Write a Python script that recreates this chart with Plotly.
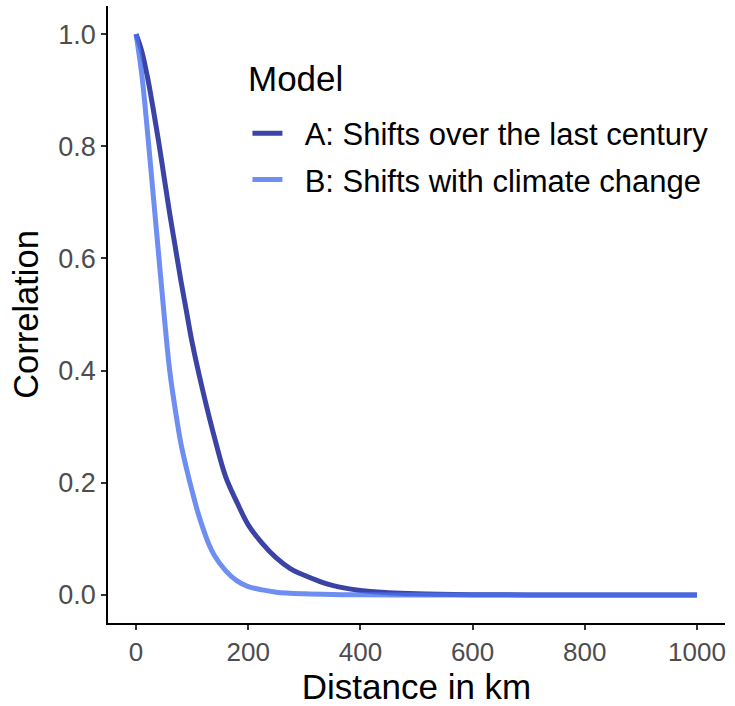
import plotly.graph_objects as go

# Distances (km) and correlations
dist_a = [0, 10, 20, 30, 40, 50, 60, 70, 80, 90, 100, 120, 140, 160, 180, 200, 225, 250,
          275, 300, 325, 350, 400, 450, 500, 600, 700, 800, 1000]
corr_a = [1.0, 0.97, 0.925, 0.87, 0.81, 0.745, 0.68, 0.62, 0.56, 0.505, 0.45, 0.36, 0.28,
          0.21, 0.165, 0.125, 0.092, 0.066, 0.047, 0.035, 0.025, 0.017, 0.008, 0.004, 0.002,
          0.0005, 0.0001, 0.0, 0.0]

dist_b = [0, 10, 20, 30, 40, 50, 60, 70, 80, 90, 100, 110, 120, 130, 140, 160, 180, 200,
          225, 250, 300, 350, 400, 500, 600, 800, 1000]
corr_b = [1.0, 0.93, 0.83, 0.72, 0.61, 0.50, 0.40, 0.33, 0.27, 0.225, 0.185, 0.148, 0.117,
          0.09, 0.07, 0.043, 0.025, 0.015, 0.009, 0.005, 0.002, 0.0007, 0.0002, 0.0, 0.0, 0.0, 0.0]

series_names = ["A: Shifts over the last century", "B: Shifts with climate change"]
series_colors = ["rgb(11,22,143)", "rgb(74,114,239)"]

x_ticks = [0, 200, 400, 600, 800, 1000]
y_ticks = [0.0, 0.2, 0.4, 0.6, 0.8, 1.0]
y_tick_labels = ["0.0", "0.2", "0.4", "0.6", "0.8", "1.0"]

FONT = "Liberation Sans, Arial, sans-serif"

fig = go.Figure()
for i, (xs, ys) in enumerate([(dist_a, corr_a), (dist_b, corr_b)]):
    fig.add_trace(go.Scatter(
        x=xs, y=ys, mode="lines", name="\u00a0\u00a0" + series_names[i],
        line=dict(color=series_colors[i], width=5, shape="spline", smoothing=1.0),
        opacity=0.8, legendgroup=f"g{i}",
    ))

fig.update_layout(
    width=735, height=706,
    margin=dict(l=108, r=10, t=6, b=83),
    paper_bgcolor="white", plot_bgcolor="white",
    font=dict(family=FONT, color="black"),
    showlegend=True,
    legend=dict(
        x=0.226, y=0.837, xanchor="left", yanchor="top",
        font=dict(size=31, color="black", family=FONT),
        tracegroupgap=3, bgcolor="rgba(0,0,0,0)",
    ),
)
fig.add_annotation(
    text="Model", x=(246 - 108) / 617, y=(623 - 78) / 617, xref="paper", yref="paper",
    xanchor="left", yanchor="middle", showarrow=False,
    font=dict(size=35, color="black", family=FONT),
)

fig.update_xaxes(
    range=[-50, 1050], tickvals=x_ticks, ticks="outside", ticklen=5, tickwidth=1.5,
    tickcolor="#333333", showline=True, linecolor="black", linewidth=1.8,
    showgrid=False, zeroline=False,
    tickfont=dict(size=26, color="#4d4d4d", family=FONT),
    title=dict(text="Distance in km", font=dict(size=35, color="black", family=FONT), standoff=9),
)
fig.update_yaxes(
    range=[-0.05, 1.05], tickvals=y_ticks, ticktext=y_tick_labels, ticks="outside",
    ticklen=5, tickwidth=1.5, tickcolor="#333333", showline=True, linecolor="black",
    linewidth=1.8, showgrid=False, zeroline=False,
    tickfont=dict(size=27, color="#4d4d4d", family=FONT),
    title=dict(text="Correlation", font=dict(size=34.5, color="black", family=FONT), standoff=9),
)

fig.write_html("out.html")
